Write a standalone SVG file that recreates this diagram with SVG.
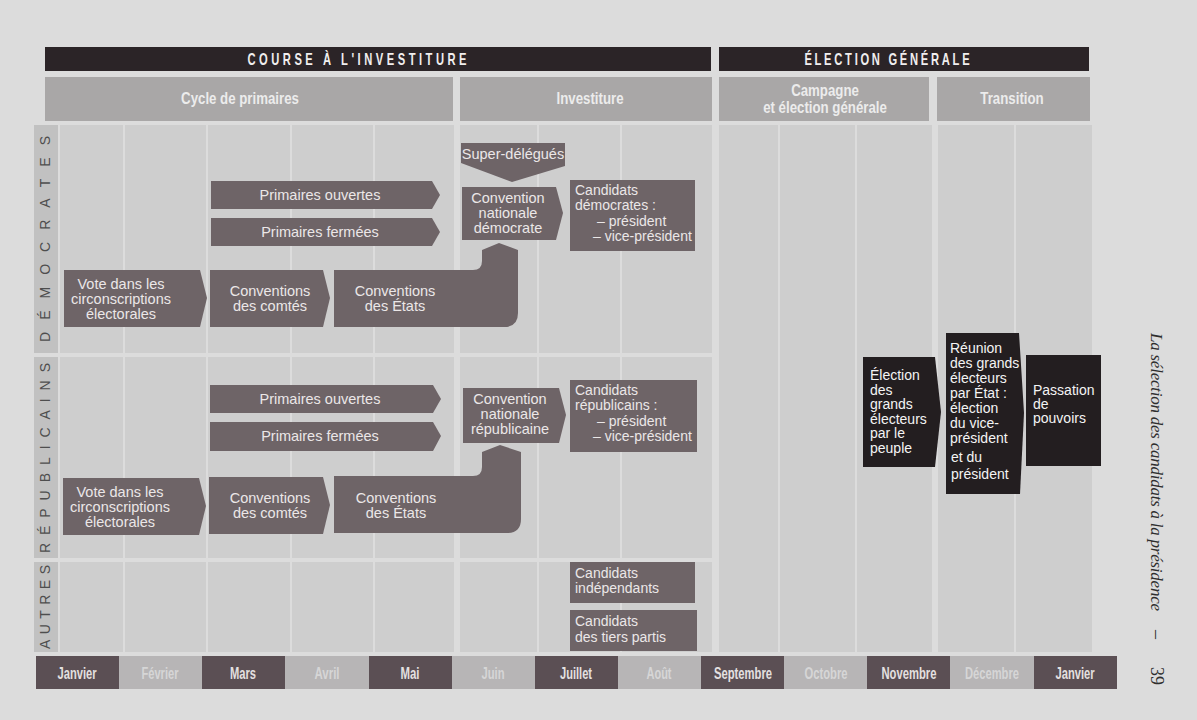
<svg xmlns="http://www.w3.org/2000/svg" width="1197" height="720" viewBox="0 0 1197 720">
<defs>
<style>
.bg{fill:#dcdcdc}
.bar{fill:#2b2427}
.bartxt{font-family:"Liberation Sans",Arial,sans-serif;font-weight:bold;font-size:16px;fill:#f0eeee}
.hdr{fill:#a9a7a7}
.hdrtxt{font-family:"Liberation Sans",Arial,sans-serif;font-weight:bold;font-size:17px;fill:#ececec}
.cell{fill:#cecece}
.lab{fill:#c1c1c1}
.labtxt{font-family:"Liberation Sans",Arial,sans-serif;font-size:14px;fill:#4e4e4e}
.node{fill:#6e6467}
.ntxt{font-family:"Liberation Sans",Arial,sans-serif;font-size:14.5px;fill:#ebe7e7}
.ctxt{font-family:"Liberation Sans",Arial,sans-serif;font-size:14px;fill:#ebe7e7}
.dark{fill:#231e20}
.dtxt{font-family:"Liberation Sans",Arial,sans-serif;font-size:14px;fill:#f4f4f4}
.md{fill:#5b4f54}
.ml{fill:#b7b5b6}
.mtd{font-family:"Liberation Sans",Arial,sans-serif;font-weight:bold;font-size:16px;fill:#e4e0e0}
.mtl{font-family:"Liberation Sans",Arial,sans-serif;font-weight:bold;font-size:16px;fill:#d6d6d6}
.cap{font-family:"Liberation Serif","Times New Roman",serif;font-style:italic;font-size:17px;fill:#2e2e2e}
.num{font-family:"Liberation Serif","Times New Roman",serif;font-size:18px;fill:#2e2e2e}
</style>
</defs>
<rect class="bg" x="0" y="0" width="1197" height="720"/>

<!-- Top bars -->
<g id="bar-course">
<rect class="bar" x="45" y="47" width="666" height="24"/>
<g transform="translate(357,65) scale(0.7,1)"><text class="bartxt" x="0" y="0" text-anchor="middle" textLength="313" lengthAdjust="spacing">COURSE À L'INVESTITURE</text></g>
</g>
<g id="bar-election">
<rect class="bar" x="719" y="47" width="370" height="24"/>
<g transform="translate(887,65) scale(0.7,1)"><text class="bartxt" x="0" y="0" text-anchor="middle" textLength="236" lengthAdjust="spacing">ÉLECTION GÉNÉRALE</text></g>
</g>

<!-- Headers -->
<g id="hdr-cycle">
<rect class="hdr" x="45" y="77" width="408" height="44"/>
<g transform="translate(240,104) scale(0.78,1)"><text class="hdrtxt" x="0" y="0" text-anchor="middle">Cycle de primaires</text></g>
</g>
<g id="hdr-investiture">
<rect class="hdr" x="460" y="77" width="252" height="44"/>
<g transform="translate(590,104) scale(0.78,1)"><text class="hdrtxt" x="0" y="0" text-anchor="middle">Investiture</text></g>
</g>
<g id="hdr-campagne">
<rect class="hdr" x="719" y="77" width="210" height="44"/>
<g transform="translate(825,96) scale(0.78,1)"><text class="hdrtxt" x="0" y="0" text-anchor="middle">Campagne</text></g>
<g transform="translate(825,113) scale(0.78,1)"><text class="hdrtxt" x="0" y="0" text-anchor="middle">et élection générale</text></g>
</g>
<g id="hdr-transition">
<rect class="hdr" x="937" y="77" width="153" height="44"/>
<g transform="translate(1012,104) scale(0.78,1)"><text class="hdrtxt" x="0" y="0" text-anchor="middle">Transition</text></g>
</g>

<!-- Grid -->
<g id="grid">
<!-- Démocrates -->
<rect class="lab" x="34" y="125" width="24" height="228"/>
<rect class="cell" x="60" y="125" width="63" height="228"/>
<rect class="cell" x="125" y="125" width="81" height="228"/>
<rect class="cell" x="208" y="125" width="82" height="228"/>
<rect class="cell" x="292" y="125" width="81" height="228"/>
<rect class="cell" x="375" y="125" width="79" height="228"/>
<rect class="cell" x="460" y="125" width="77" height="228"/>
<rect class="cell" x="539" y="125" width="81" height="228"/>
<rect class="cell" x="622" y="125" width="90" height="228"/>
<!-- Républicains -->
<rect class="lab" x="34" y="357" width="24" height="201"/>
<rect class="cell" x="60" y="357" width="63" height="201"/>
<rect class="cell" x="125" y="357" width="81" height="201"/>
<rect class="cell" x="208" y="357" width="82" height="201"/>
<rect class="cell" x="292" y="357" width="81" height="201"/>
<rect class="cell" x="375" y="357" width="79" height="201"/>
<rect class="cell" x="460" y="357" width="77" height="201"/>
<rect class="cell" x="539" y="357" width="81" height="201"/>
<rect class="cell" x="622" y="357" width="90" height="201"/>
<!-- Autres -->
<rect class="lab" x="34" y="562" width="24" height="90"/>
<rect class="cell" x="60" y="562" width="63" height="90"/>
<rect class="cell" x="125" y="562" width="81" height="90"/>
<rect class="cell" x="208" y="562" width="82" height="90"/>
<rect class="cell" x="292" y="562" width="81" height="90"/>
<rect class="cell" x="375" y="562" width="79" height="90"/>
<rect class="cell" x="460" y="562" width="77" height="90"/>
<rect class="cell" x="539" y="562" width="81" height="90"/>
<rect class="cell" x="622" y="562" width="90" height="90"/>
<!-- Right area -->
<rect class="cell" x="719" y="125" width="59" height="527"/>
<rect class="cell" x="780" y="125" width="75" height="527"/>
<rect class="cell" x="857" y="125" width="75" height="527"/>
<rect class="cell" x="938" y="125" width="76" height="527"/>
<rect class="cell" x="1016" y="125" width="76" height="527"/>
</g>

<!-- Row labels -->
<g id="label-democrates"><text class="labtxt" transform="translate(50,239) rotate(-90)" text-anchor="middle" textLength="206" lengthAdjust="spacing">DÉMOCRATES</text></g>
<g id="label-republicains"><text class="labtxt" transform="translate(50,458) rotate(-90)" text-anchor="middle" textLength="190" lengthAdjust="spacing">RÉPUBLICAINS</text></g>
<g id="label-autres"><text class="labtxt" transform="translate(50,607) rotate(-90)" text-anchor="middle" textLength="84" lengthAdjust="spacing">AUTRES</text></g>

<g id="connectors"></g>

<!-- Démocrates nodes -->
<g id="dem-primaires-ouvertes">
<polygon class="node" points="211,181 432,181 440,195 432,209 211,209"/>
<text class="ntxt" x="320" y="200" text-anchor="middle">Primaires ouvertes</text>
</g>
<g id="dem-primaires-fermees">
<polygon class="node" points="211,218 432,218 440,232 432,246 211,246"/>
<text class="ntxt" x="320" y="237" text-anchor="middle">Primaires fermées</text>
</g>
<g id="dem-vote">
<polygon class="node" points="64,270 200,270 207,298 200,327 64,327"/>
<text class="ntxt" text-anchor="middle"><tspan x="121" y="289">Vote dans les</tspan><tspan x="121" y="304">circonscriptions</tspan><tspan x="121" y="319">électorales</tspan></text>
</g>
<g id="dem-comtes">
<polygon class="node" points="210,270 323,270 330,298 323,327 210,327"/>
<text class="ntxt" text-anchor="middle"><tspan x="270" y="296">Conventions</tspan><tspan x="270" y="311">des comtés</tspan></text>
</g>
<g id="dem-etats">
<path class="node" d="M334,270 H473 Q482,270 482,261 V250 L499,243 L518,250 V313 Q518,327 504,327 H334 Z"/>
<text class="ntxt" text-anchor="middle"><tspan x="395" y="296">Conventions</tspan><tspan x="395" y="311">des États</tspan></text>
</g>
<g id="dem-super-delegues">
<polygon class="node" points="461,143 565,143 565,166 512,182 461,163"/>
<text class="ntxt" x="513" y="159" text-anchor="middle">Super-délégués</text>
</g>
<g id="dem-convention">
<polygon class="node" points="462,187 556,187 563,213 556,240 462,240"/>
<text class="ntxt" text-anchor="middle"><tspan x="508" y="203">Convention</tspan><tspan x="508" y="218">nationale</tspan><tspan x="508" y="233">démocrate</tspan></text>
</g>
<g id="dem-candidats">
<rect class="node" x="570" y="180" width="125" height="71"/>
<text class="ctxt"><tspan x="575" y="195">Candidats</tspan><tspan x="575" y="210">démocrates :</tspan><tspan x="597" y="226">– président</tspan><tspan x="593" y="241">– vice-président</tspan></text>
</g>

<!-- Républicains nodes -->
<g id="rep-primaires-ouvertes">
<polygon class="node" points="210,385 433,385 441,399 433,413 210,413"/>
<text class="ntxt" x="320" y="404" text-anchor="middle">Primaires ouvertes</text>
</g>
<g id="rep-primaires-fermees">
<polygon class="node" points="210,422 433,422 441,436 433,451 210,451"/>
<text class="ntxt" x="320" y="441" text-anchor="middle">Primaires fermées</text>
</g>
<g id="rep-vote">
<polygon class="node" points="63,478 199,478 206,506 199,535 63,535"/>
<text class="ntxt" text-anchor="middle"><tspan x="120" y="497">Vote dans les</tspan><tspan x="120" y="512">circonscriptions</tspan><tspan x="120" y="527">électorales</tspan></text>
</g>
<g id="rep-comtes">
<polygon class="node" points="209,477 323,477 330,505 323,534 209,534"/>
<text class="ntxt" text-anchor="middle"><tspan x="270" y="503">Conventions</tspan><tspan x="270" y="518">des comtés</tspan></text>
</g>
<g id="rep-etats">
<path class="node" d="M334,476 H473 Q482,476 482,467 V452 L500,445 L521,452 V519 Q521,533 507,533 H334 Z"/>
<text class="ntxt" text-anchor="middle"><tspan x="396" y="503">Conventions</tspan><tspan x="396" y="518">des États</tspan></text>
</g>
<g id="rep-convention">
<polygon class="node" points="463,388 559,388 566,415 559,443 463,443"/>
<text class="ntxt" text-anchor="middle"><tspan x="510" y="404">Convention</tspan><tspan x="510" y="419">nationale</tspan><tspan x="510" y="434">républicaine</tspan></text>
</g>
<g id="rep-candidats">
<rect class="node" x="570" y="380" width="127" height="72"/>
<text class="ctxt"><tspan x="575" y="395">Candidats</tspan><tspan x="575" y="410">républicains :</tspan><tspan x="597" y="426">– président</tspan><tspan x="593" y="441">– vice-président</tspan></text>
</g>

<!-- Autres -->
<g id="autres-independants">
<rect class="node" x="570" y="562" width="125" height="41"/>
<text class="ctxt"><tspan x="575" y="578">Candidats</tspan><tspan x="575" y="593">indépendants</tspan></text>
</g>
<g id="autres-tiers-partis">
<rect class="node" x="570" y="610" width="127" height="41"/>
<text class="ctxt"><tspan x="575" y="626">Candidats</tspan><tspan x="575" y="642">des tiers partis</tspan></text>
</g>

<!-- Election générale -->
<g id="election-grands-electeurs">
<polygon class="dark" points="863,357 935,357 941,412 935,467 863,467"/>
<text class="dtxt"><tspan x="870" y="380">Élection</tspan><tspan x="870" y="394.5">des</tspan><tspan x="870" y="409">grands</tspan><tspan x="870" y="423.5">électeurs</tspan><tspan x="870" y="438">par le</tspan><tspan x="870" y="452.5">peuple</tspan></text>
</g>
<g id="reunion-grands-electeurs">
<polygon class="dark" points="946,333 1019,333 1024,413 1020,494 946,494"/>
<text class="dtxt"><tspan x="950" y="353">Réunion</tspan><tspan x="950" y="368">des grands</tspan><tspan x="950" y="383">électeurs</tspan><tspan x="950" y="398">par État :</tspan><tspan x="950" y="413">élection</tspan><tspan x="950" y="428">du vice-</tspan><tspan x="950" y="443">président</tspan><tspan x="951" y="462">et du</tspan><tspan x="951" y="479">président</tspan></text>
</g>
<g id="passation-pouvoirs">
<rect class="dark" x="1026" y="355" width="75" height="111"/>
<text class="dtxt"><tspan x="1033" y="395">Passation</tspan><tspan x="1033" y="409">de</tspan><tspan x="1033" y="423">pouvoirs</tspan></text>
</g>

<!-- Month bar -->
<g id="months">
<rect class="md" x="36" y="656" width="83" height="33"/>
<rect class="ml" x="119" y="656" width="83" height="33"/>
<rect class="md" x="202" y="656" width="83" height="33"/>
<rect class="ml" x="285" y="656" width="84" height="33"/>
<rect class="md" x="369" y="656" width="83" height="33"/>
<rect class="ml" x="452" y="656" width="83" height="33"/>
<rect class="md" x="535" y="656" width="83" height="33"/>
<rect class="ml" x="618" y="656" width="83" height="33"/>
<rect class="md" x="701" y="656" width="83" height="33"/>
<rect class="ml" x="784" y="656" width="83" height="33"/>
<rect class="md" x="867" y="656" width="83" height="33"/>
<rect class="ml" x="950" y="656" width="84" height="33"/>
<rect class="md" x="1034" y="656" width="83" height="33"/>
<text class="mtd" x="77" y="679" text-anchor="middle" textLength="39" lengthAdjust="spacingAndGlyphs">Janvier</text>
<text class="mtl" x="160" y="679" text-anchor="middle" textLength="37" lengthAdjust="spacingAndGlyphs">Février</text>
<text class="mtd" x="243" y="679" text-anchor="middle" textLength="26" lengthAdjust="spacingAndGlyphs">Mars</text>
<text class="mtl" x="327" y="679" text-anchor="middle" textLength="25" lengthAdjust="spacingAndGlyphs">Avril</text>
<text class="mtd" x="410" y="679" text-anchor="middle" textLength="19" lengthAdjust="spacingAndGlyphs">Mai</text>
<text class="mtl" x="493" y="679" text-anchor="middle" textLength="23" lengthAdjust="spacingAndGlyphs">Juin</text>
<text class="mtd" x="576" y="679" text-anchor="middle" textLength="32" lengthAdjust="spacingAndGlyphs">Juillet</text>
<text class="mtl" x="659" y="679" text-anchor="middle" textLength="25" lengthAdjust="spacingAndGlyphs">Août</text>
<text class="mtd" x="743" y="679" text-anchor="middle" textLength="58" lengthAdjust="spacingAndGlyphs">Septembre</text>
<text class="mtl" x="826" y="679" text-anchor="middle" textLength="43" lengthAdjust="spacingAndGlyphs">Octobre</text>
<text class="mtd" x="909" y="679" text-anchor="middle" textLength="55" lengthAdjust="spacingAndGlyphs">Novembre</text>
<text class="mtl" x="992" y="679" text-anchor="middle" textLength="54" lengthAdjust="spacingAndGlyphs">Décembre</text>
<text class="mtd" x="1075" y="679" text-anchor="middle" textLength="39" lengthAdjust="spacingAndGlyphs">Janvier</text>
</g>

<!-- Side caption -->
<g id="caption">
<text class="cap" transform="translate(1151,333) rotate(90)" textLength="278" lengthAdjust="spacing">La sélection des candidats à la présidence</text>
<text class="num" transform="translate(1151,630) rotate(90)">–</text>
<text class="num" transform="translate(1151,667) rotate(90)">39</text>
</g>
</svg>
